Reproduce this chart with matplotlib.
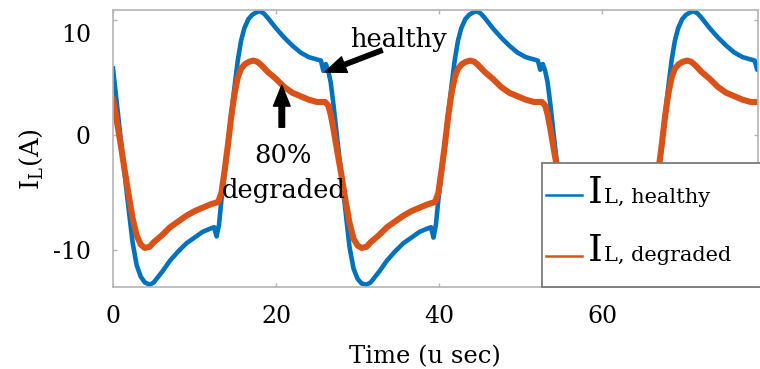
import numpy as np
import matplotlib
matplotlib.use('Agg')
import matplotlib.pyplot as plt
from matplotlib.patches import Rectangle
from matplotlib.transforms import ScaledTranslation

plt.rcParams['font.family'] = 'DejaVu Serif'
plt.rcParams['mathtext.fontset'] = 'dejavuserif'
plt.rcParams['axes.unicode_minus'] = False

# Inductor current (time in u sec, current in A)
t_healthy = [0.0, 0.4, 0.9, 1.4, 1.9, 2.4, 2.9, 3.4, 3.9, 4.5, 5.0, 6.0, 7.0, 8.0, 9.0, 10.0,
             11.0, 12.0, 12.4, 12.7, 13.0, 13.3, 13.7, 14.1, 14.5, 14.9, 15.3, 15.7, 16.1, 16.6,
             17.1, 17.6, 18.0, 18.5, 19.0, 20.0, 21.0, 22.0, 23.0, 24.0, 25.0, 25.5, 25.8, 26.1,
             26.4, 26.7, 27.0, 27.5, 28.0, 28.5, 29.0, 29.5, 30.0, 30.5, 31.1, 31.6, 32.6, 33.6,
             34.6, 35.6, 36.6, 37.6, 38.6, 39.0, 39.3, 39.6, 39.9, 40.3, 40.7, 41.1, 41.5, 41.9,
             42.3, 42.7, 43.2, 43.7, 44.2, 44.6, 45.1, 45.6, 46.6, 47.6, 48.6, 49.6, 50.6, 51.6,
             52.1, 52.4, 52.7, 53.0, 53.3, 53.6, 54.1, 54.6, 55.1, 55.6, 56.1, 56.6, 57.1, 57.7,
             58.2, 59.2, 60.2, 61.2, 62.2, 63.2, 64.2, 65.2, 65.6, 65.9, 66.2, 66.5, 66.9, 67.3,
             67.7, 68.1, 68.5, 68.9, 69.3, 69.8, 70.3, 70.8, 71.2, 71.7, 72.2, 73.2, 74.2, 75.2,
             76.2, 77.2, 78.2, 78.7, 79.0, 79.3]
i_healthy = [5.8, 3.2, 0.0, -3.2, -6.3, -9.3, -11.3, -12.3, -12.8, -13.0, -12.8, -11.9, -10.9, -10.1,
             -9.4, -8.9, -8.4, -8.1, -8.0, -8.8, -7.8, -5.6, -3.3, -1.0, 1.8, 4.2, 6.5, 8.2, 9.3, 10.1,
             10.5, 10.7, 10.8, 10.6, 10.2, 9.3, 8.5, 7.8, 7.2, 6.8, 6.6, 6.5, 5.6, 6.2,
             5.6, 4.6, 2.9, -0.3, -3.4, -6.5, -9.7, -11.6, -12.5, -12.9, -13.0, -12.8, -11.9, -10.9,
             -10.1, -9.4, -8.9, -8.4, -8.1, -8.0, -8.9, -7.8, -5.6, -3.3, -1.0, 1.8, 4.2, 6.5,
             8.2, 9.3, 10.1, 10.5, 10.7, 10.8, 10.6, 10.2, 9.3, 8.5, 7.8, 7.2, 6.8, 6.6,
             6.5, 5.7, 6.2, 5.6, 4.6, 2.9, -0.3, -3.4, -6.5, -9.7, -11.6, -12.5, -12.9, -13.0,
             -12.8, -11.9, -10.9, -10.1, -9.4, -8.9, -8.4, -8.1, -8.0, -8.8, -7.8, -5.6, -3.3, -1.0,
             1.8, 4.2, 6.5, 8.2, 9.3, 10.1, 10.5, 10.7, 10.8, 10.6, 10.2, 9.3, 8.5, 7.8,
             7.2, 6.8, 6.6, 6.5, 5.7, 6.2]

t_degraded = [0.0, 0.4, 0.9, 1.4, 1.9, 2.4, 2.9, 3.4, 3.9, 4.5, 5.0, 6.0, 7.0, 8.0, 9.0, 10.0,
              11.0, 12.0, 12.9, 13.3, 13.7, 14.1, 14.5, 14.9, 15.3, 15.7, 16.2, 16.7, 17.2, 17.7,
              18.2, 19.0, 20.0, 21.0, 22.0, 23.0, 24.0, 25.0, 26.0, 26.4, 26.7, 27.0, 27.5, 28.0,
              28.5, 29.0, 29.5, 30.0, 30.5, 31.1, 31.6, 32.6, 33.6, 34.6, 35.6, 36.6, 37.6, 38.6,
              39.5, 39.9, 40.3, 40.7, 41.1, 41.5, 41.9, 42.3, 42.8, 43.3, 43.8, 44.3, 44.8, 45.6,
              46.6, 47.6, 48.6, 49.6, 50.6, 51.6, 52.6, 53.0, 53.3, 53.6, 54.1, 54.6, 55.1, 55.6,
              56.1, 56.6, 57.1, 57.7, 58.2, 59.2, 60.2, 61.2, 62.2, 63.2, 64.2, 65.2, 66.1, 66.5,
              66.9, 67.3, 67.7, 68.1, 68.5, 68.9, 69.4, 69.9, 70.4, 70.9, 71.4, 72.2, 73.2, 74.2,
              75.2, 76.2, 77.2, 78.2, 79.2]
i_degraded = [3.1, 1.5, -0.6, -2.9, -5.1, -7.2, -8.7, -9.5, -9.8, -9.7, -9.3, -8.7, -8.0, -7.5, -7.0, -6.6,
              -6.3, -6.0, -5.8, -5.0, -3.0, -0.8, 1.6, 3.6, 5.0, 5.8, 6.2, 6.4, 6.5, 6.4,
              6.1, 5.5, 4.9, 4.2, 3.7, 3.4, 3.1, 2.9, 2.9, 2.6, 1.8, 0.7, -1.4, -3.4,
              -5.6, -7.6, -9.0, -9.6, -9.8, -9.7, -9.3, -8.7, -8.0, -7.5, -7.0, -6.6, -6.3, -6.0,
              -5.8, -5.0, -3.0, -0.8, 1.6, 3.6, 5.0, 5.8, 6.2, 6.4, 6.5, 6.4, 6.1, 5.5,
              4.9, 4.2, 3.7, 3.4, 3.1, 2.9, 2.9, 2.6, 1.8, 0.7, -1.4, -3.4, -5.6, -7.6,
              -9.0, -9.6, -9.8, -9.7, -9.3, -8.7, -8.0, -7.5, -7.0, -6.6, -6.3, -6.0, -5.8, -5.0,
              -3.0, -0.8, 1.6, 3.6, 5.0, 5.8, 6.2, 6.4, 6.5, 6.4, 6.1, 5.5, 4.9, 4.2,
              3.7, 3.4, 3.1, 2.9, 2.9]

x_ticks = [0, 20, 40, 60]
y_ticks = [-10, 0, 10]

blue = '#0072BD'
orange = '#D95319'
grey = '#b4b4b4'

fig = plt.figure(figsize=(7.6, 3.69), dpi=100)
ax = fig.add_axes([113 / 760, 1 - 287 / 369, 645 / 760, 277 / 369])

ax.plot(t_healthy, i_healthy, color=blue, linewidth=3.3, solid_joinstyle='round')
ax.plot(t_degraded, i_degraded, color=orange, linewidth=4.4, solid_joinstyle='round')

ax.set_xlim(0, 79.1)
ax.set_ylim(-13.2, 10.9)
ax.set_xticks(x_ticks)
ax.set_yticks(y_ticks)
ax.tick_params(direction='in', length=3, color=grey, width=1, top=True, right=True,
               labelsize=17)
ax.tick_params(axis='x', pad=13)
ax.tick_params(axis='y', pad=16)
for s in ax.spines.values():
    s.set_color(grey)
    s.set_linewidth(1.2)

# top y label sits a bit lower than its tick in the original
top_lab = ax.yaxis.get_major_ticks()[-1].label1
top_lab.set_transform(top_lab.get_transform() + ScaledTranslation(0, -0.13, fig.dpi_scale_trans))

# annotations
ax.annotate('', xy=(26.0, 5.5), xytext=(33.0, 7.4),
            arrowprops=dict(facecolor='black', edgecolor='black', width=3.2,
                            headwidth=12, headlength=15, shrink=0))
ax.text(35.0, 7.65, 'healthy', ha='center', va='baseline', fontsize=18.5)
ax.annotate('', xy=(20.7, 4.35), xytext=(20.7, 0.7),
            arrowprops=dict(facecolor='black', edgecolor='black', width=4,
                            headwidth=12, headlength=15, shrink=0))
ax.text(20.9, -2.45, '80%', ha='center', va='baseline', fontsize=18.5)
ax.text(20.9, -5.5, 'degraded', ha='center', va='baseline', fontsize=18.5)

# legend box drawn by hand (mixed font sizes in the labels)
ax.add_patch(Rectangle((0.665, 0.0), 0.4, 0.448, transform=ax.transAxes,
                       facecolor='white', edgecolor='#7a7a7a', linewidth=1.3,
                       clip_on=False, zorder=5))
for y_line, y_txt, col, name in [(0.332, 0.303, blue, 'L, healthy'),
                                 (0.112, 0.094, orange, 'L, degraded')]:
    ax.plot([0.671, 0.727], [y_line, y_line], color=col, linewidth=1.8,
            transform=ax.transAxes, clip_on=False, zorder=6)
    ax.text(0.736, y_txt, 'I', transform=ax.transAxes, fontsize=27,
            va='baseline', ha='left', zorder=6)
    ax.text(0.762, y_txt, name, transform=ax.transAxes, fontsize=15,
            va='baseline', ha='left', zorder=6)

fig.text(425 / 760, 1 - 363 / 369, 'Time (u sec)', ha='center', va='baseline', fontsize=17.5)
fig.text(31 / 760, 1 - 159 / 369, r'I$_{\mathrm{L}}$(A)', rotation=90, ha='center',
         va='center', fontsize=18.5)

fig.savefig('out.png', dpi=100)
